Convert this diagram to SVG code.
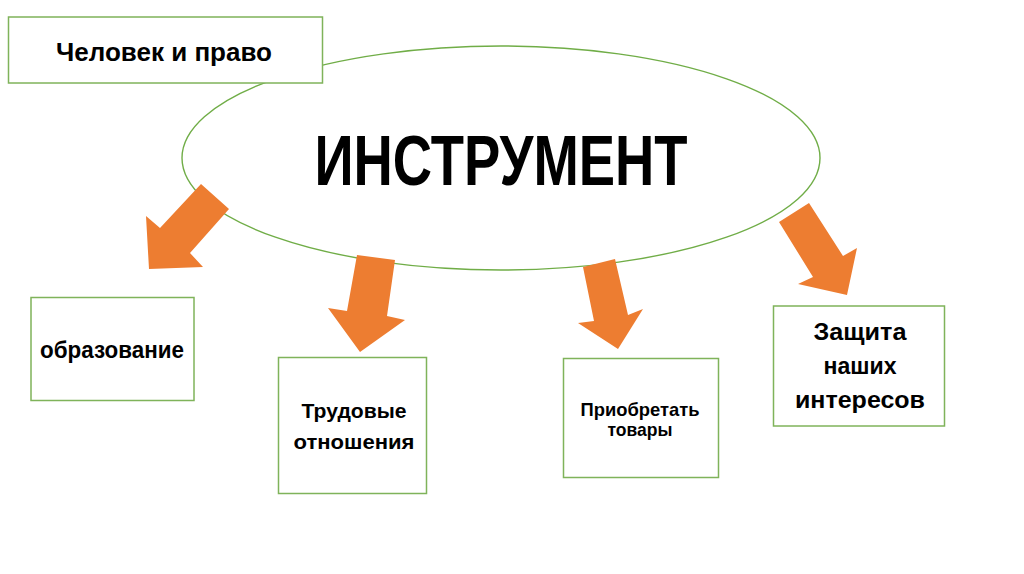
<svg xmlns="http://www.w3.org/2000/svg" width="1024" height="574" viewBox="0 0 1024 574">
<style>
.box{fill:#ffffff;stroke:#7fb35a;stroke-width:1.5}
.ell{fill:none;stroke:#70ad47;stroke-width:1.4}
.arr{fill:#ed7d31;stroke:none}
.t{font-family:"Liberation Sans",Arial,sans-serif;font-weight:bold;fill:#000;text-anchor:middle}
</style>
<rect width="1024" height="574" fill="#ffffff"/>
<g id="center">
<ellipse class="ell" cx="501" cy="158" rx="319" ry="112"/>
<text class="t" x="501" y="185" font-size="70" textLength="373" lengthAdjust="spacingAndGlyphs">ИНСТРУМЕНТ</text>
</g>
<g id="title">
<rect class="box" x="8.5" y="17" width="314" height="66"/>
<text class="t" x="164" y="60.5" font-size="25" textLength="216" lengthAdjust="spacingAndGlyphs">Человек и право</text>
</g>
<g id="connectors">
<polygon class="arr" points="201,184 229,209 190,253 203,267 149,269 146,216 160,228"/>
<polygon class="arr" points="357,255 395,260 387,316 405,320 360,352 328,308 347,311"/>
<polygon class="arr" points="583,267 615,259 628,315 643,309 618,349 578,323 594,321"/>
<polygon class="arr" points="779,222 809,203 843,256 857,248 847,295 798,284 813,277"/>
</g>
<g id="node-education">
<rect class="box" x="31" y="297.5" width="163" height="103"/>
<text class="t" x="112" y="358" font-size="23" textLength="144" lengthAdjust="spacingAndGlyphs">образование</text>
</g>
<g id="node-labour">
<rect class="box" x="278.5" y="357.5" width="148" height="136"/>
<text class="t" x="354" y="418" font-size="21" textLength="105" lengthAdjust="spacingAndGlyphs">Трудовые</text>
<text class="t" x="354" y="449" font-size="21" textLength="121" lengthAdjust="spacingAndGlyphs">отношения</text>
</g>
<g id="node-goods">
<rect class="box" x="563.5" y="358.5" width="155" height="119"/>
<text class="t" x="640" y="415.5" font-size="19" textLength="119" lengthAdjust="spacingAndGlyphs">Приобретать</text>
<text class="t" x="640" y="436" font-size="19" textLength="65" lengthAdjust="spacingAndGlyphs">товары</text>
</g>
<g id="node-interests">
<rect class="box" x="773.5" y="306" width="171" height="120"/>
<text class="t" x="860" y="340" font-size="24" textLength="93" lengthAdjust="spacingAndGlyphs">Защита</text>
<text class="t" x="860" y="374" font-size="24" textLength="73" lengthAdjust="spacingAndGlyphs">наших</text>
<text class="t" x="860" y="407.5" font-size="24" textLength="130" lengthAdjust="spacingAndGlyphs">интересов</text>
</g>
</svg>
